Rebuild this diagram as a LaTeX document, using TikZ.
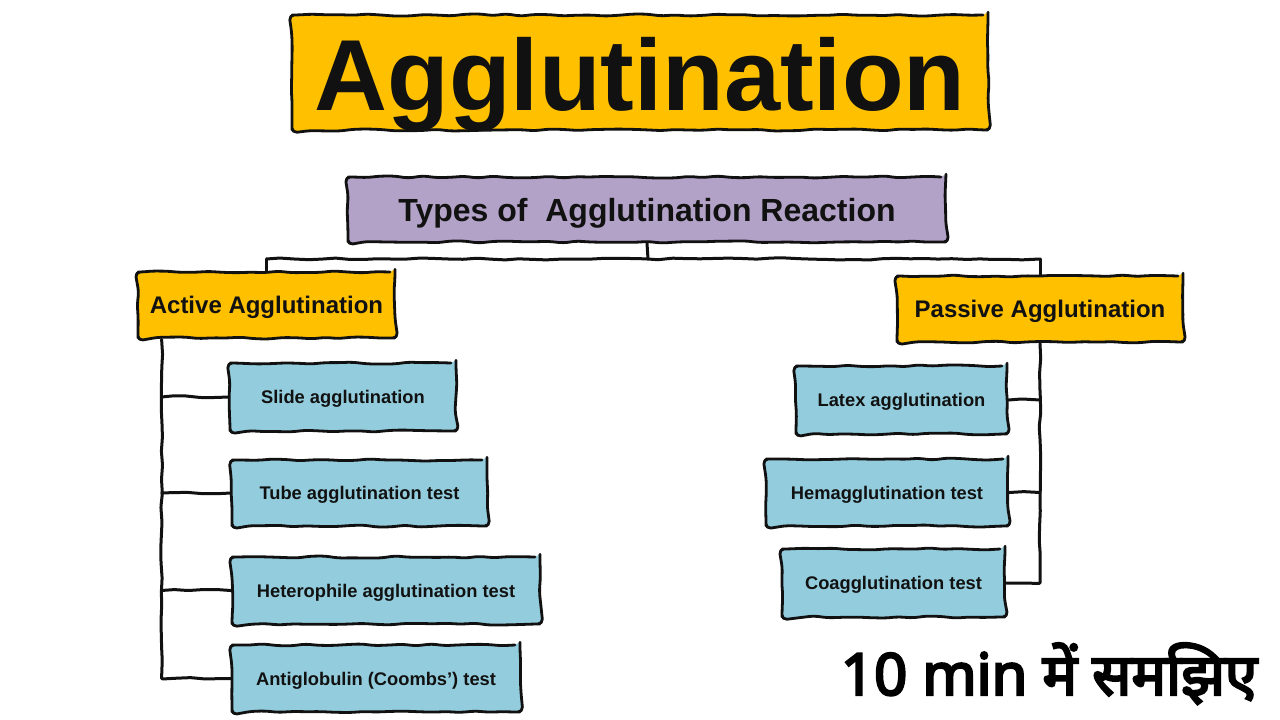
\documentclass[tikz,border=0pt]{standalone}
\usepackage{fontspec}
\setmainfont{Liberation Sans}
\newfontfamily\hindi[Script=Devanagari, FakeBold=4]{Noto Sans}
\usetikzlibrary{decorations.pathmorphing}
\definecolor{gold}{HTML}{FFC000}
\definecolor{lav}{HTML}{B3A2C7}
\definecolor{aqua}{HTML}{93CDDD}
\definecolor{ink}{HTML}{111111}
\tikzset{
  wob/.style={decorate, decoration={random steps, segment length=14pt, amplitude=1.1pt}, rounded corners=5pt, line join=round, line cap=round},
  box/.style={wob, draw=ink, line width=2.8pt, inner sep=0pt, align=center, text=ink, text depth=0pt},
  titlebox/.style={box, fill=gold, font=\fontsize{101}{101}\selectfont\bfseries, text height=76pt},
  typebox/.style={box, fill=lav, font=\fontsize{32}{32}\selectfont\bfseries, text height=23pt},
  catbox/.style={box, fill=gold, font=\fontsize{24}{24}\selectfont\bfseries, text height=17pt},
  itembox/.style={box, fill=aqua, font=\fontsize{18.3}{18}\selectfont\bfseries, text height=13pt},
  link/.style={wob, draw=ink, line width=3pt, rounded corners=1pt},
}
\begin{document}
\begin{tikzpicture}[x=1pt,y=-1pt]
\pgfmathsetseed{7}
\useasboundingbox (0,0) rectangle (1280,720);
\node[titlebox, minimum width=696pt, minimum height=115pt] (title) at (640,72.5) {Agglutination};
\node[typebox, minimum width=598pt, minimum height=65pt] (types) at (647,209.5) {Types of\ \ Agglutination Reaction};
\node[catbox, minimum width=257pt, minimum height=66pt] (active) at (266.5,305) {Active Agglutination};
\node[catbox, minimum width=286pt, minimum height=66pt] (passive) at (1040,309) {Passive Agglutination};
\node[itembox, minimum width=226pt, minimum height=68pt] (slide) at (343,397) {Slide agglutination};
\node[itembox, minimum width=255pt, minimum height=66pt] (tube) at (359.5,493) {Tube agglutination test};
\node[itembox, minimum width=308pt, minimum height=67pt] (hetero) at (386,590.5) {Heterophile agglutination test};
\node[itembox, minimum width=288pt, minimum height=67pt] (anti) at (376,678.5) {Antiglobulin (Coombs’) test};
\node[itembox, minimum width=211pt, minimum height=68pt] (latex) at (901.5,400) {Latex agglutination};
\node[itembox, minimum width=242pt, minimum height=67pt] (hemag) at (887,492.5) {Hemagglutination test};
\node[itembox, minimum width=223pt, minimum height=68pt] (coag) at (893.5,583) {Coagglutination test};
\node[anchor=base, font=\hindi\fontsize{58}{58}\selectfont, inner sep=0pt] (note) at (1049,695) {10 min में समझिए};
% connectors
\coordinate (jt) at (648,259);
\coordinate (jl) at (active.north |- jt);
\coordinate (jr) at (passive.north |- jt);
\coordinate (lt) at ([xshift=25pt]active.south west);
\draw[link] (types.south) -- (jt);
\draw[link] (jl) -- (jr);
\draw[link] (jl) -- (active.north);
\draw[link] (jr) -- (passive.north);
\draw[link] (lt) |- (anti.west);
\draw[link] (slide.west) -- (slide.west -| lt);
\draw[link] (tube.west) -- (tube.west -| lt);
\draw[link] (hetero.west) -- (hetero.west -| lt);
\draw[link] (passive.south) |- (coag.east);
\draw[link] (latex.east) -- (latex.east -| passive.south);
\draw[link] (hemag.east) -- (hemag.east -| passive.south);
\end{tikzpicture}
\end{document}
